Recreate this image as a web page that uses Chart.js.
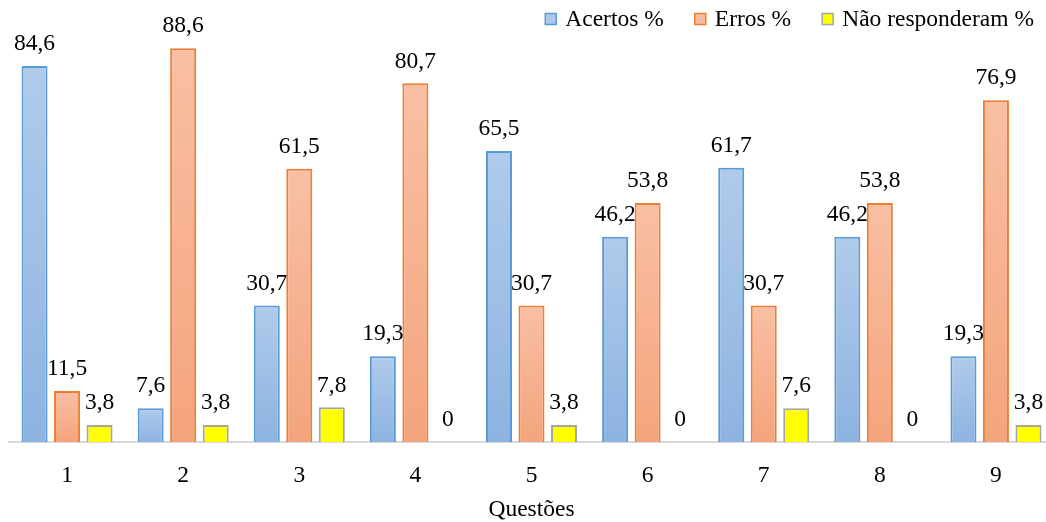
<!DOCTYPE html>
<html>
<head>
<meta charset="utf-8">
<script src="https://cdn.jsdelivr.net/npm/chart.js@4/dist/chart.umd.min.js"></script>
<style>
  html, body { margin: 0; padding: 0; background: #fff; overflow: hidden; }
  #wrap { width: 1060px; height: 522px; }
</style>
</head>
<body>
<div id="wrap"><canvas id="c" width="1060" height="522"></canvas></div>
<script>
const categories = ['1', '2', '3', '4', '5', '6', '7', '8', '9'];
const acertos = [84.6, 7.6, 30.7, 19.3, 65.5, 46.2, 61.7, 46.2, 19.3];
const erros = [11.5, 88.6, 61.5, 80.7, 30.7, 53.8, 30.7, 53.8, 76.9];
const naoResponderam = [3.8, 3.8, 7.8, 0, 3.8, 0, 7.6, 0, 3.8];
const seriesLabels = ['Acertos %', 'Erros %', 'Não responderam %'];
const axisTitle = 'Questões';

const FONT = "'Liberation Serif', 'Times New Roman', serif";
const FS = 23.5;

function barGradient(top, bottom) {
  return function (context) {
    const chart = context.chart;
    const area = chart.chartArea;
    if (!area || context.parsed == null) return top;
    const ys = chart.scales.y;
    const yTop = ys.getPixelForValue(context.parsed.y);
    const yBot = ys.getPixelForValue(0);
    if (!isFinite(yTop) || Math.abs(yBot - yTop) < 1) return top;
    const g = chart.ctx.createLinearGradient(0, yTop, 0, yBot);
    g.addColorStop(0, top);
    g.addColorStop(1, bottom);
    return g;
  };
}

const legendItems = [
  { fill: '#adc8e8', stroke: '#5b9bd5' },
  { fill: '#f8bba0', stroke: '#ed7d31' },
  { fill: '#ffff00', stroke: '#a5a5a5' }
];

const valueLabels = {
  id: 'valueLabels',
  afterDatasetsDraw(chart) {
    const ctx = chart.ctx;
    ctx.save();
    ctx.font = FS + 'px ' + FONT;
    ctx.fillStyle = '#000';
    ctx.textAlign = 'center';
    ctx.textBaseline = 'middle';
    chart.data.datasets.forEach((ds, i) => {
      const meta = chart.getDatasetMeta(i);
      meta.data.forEach((el, j) => {
        const v = ds.data[j];
        const txt = String(v).replace('.', ',');
        ctx.fillText(txt, el.x, el.y - 22);
      });
    });
    ctx.restore();
  }
};

const customLegend = {
  id: 'customLegend',
  afterDraw(chart) {
    const ctx = chart.ctx;
    ctx.save();
    ctx.font = FS + 'px ' + FONT;
    ctx.textBaseline = 'middle';
    ctx.textAlign = 'left';
    const box = 11, gapText = 9, gapItem = 31;
    let widths = chart.data.datasets.map(d => box + gapText + ctx.measureText(d.label).width);
    let total = widths.reduce((a, b) => a + b, 0) + gapItem * (widths.length - 1);
    let x = 1034 - total;
    const yc = 19;
    chart.data.datasets.forEach((d, i) => {
      const li = legendItems[i];
      ctx.fillStyle = li.fill;
      ctx.fillRect(x, yc - box / 2, box, box);
      ctx.strokeStyle = li.stroke;
      ctx.lineWidth = 1.5;
      ctx.strokeRect(x, yc - box / 2, box, box);
      ctx.fillStyle = '#000';
      ctx.fillText(d.label, x + box + gapText, yc + 1);
      x += widths[i] + gapItem;
    });
    ctx.restore();
  }
};

new Chart(document.getElementById('c'), {
  type: 'bar',
  data: {
    labels: categories,
    datasets: [
      {
        label: seriesLabels[0],
        data: acertos,
        backgroundColor: barGradient('#b0cbea', '#8db3e1'),
        borderColor: '#5b9bd5',
        borderWidth: 2,
        borderSkipped: 'bottom'
      },
      {
        label: seriesLabels[1],
        data: erros,
        backgroundColor: barGradient('#f9bfa4', '#f4a47c'),
        borderColor: '#ed7d31',
        borderWidth: 2,
        borderSkipped: 'bottom'
      },
      {
        label: seriesLabels[2],
        data: naoResponderam,
        backgroundColor: '#ffff00',
        borderColor: '#a5a5a5',
        borderWidth: 2,
        borderSkipped: 'bottom'
      }
    ]
  },
  options: {
    responsive: false,
    animation: false,
    devicePixelRatio: 1,
    layout: { padding: { left: 9, right: 6, top: 2, bottom: 0 } },
    datasets: {
      bar: { categoryPercentage: 0.84, barPercentage: 0.8 }
    },
    plugins: {
      legend: { display: false },
      tooltip: { enabled: false }
    },
    scales: {
      x: {
        grid: { display: false, drawTicks: false },
        border: { display: true, color: '#d9d9d9', width: 2 },
        ticks: { color: '#000', font: { family: FONT, size: FS }, padding: 20 },
        title: {
          display: true,
          text: axisTitle,
          color: '#000',
          font: { family: FONT, size: FS, lineHeight: 1.0 },
          padding: { top: 0, bottom: 0 }
        },
        afterFit(scale) { scale.height = 80; }
      },
      y: {
        display: false,
        min: 0,
        max: 99
      }
    }
  },
  plugins: [valueLabels, customLegend]
});
</script>
</body>
</html>
